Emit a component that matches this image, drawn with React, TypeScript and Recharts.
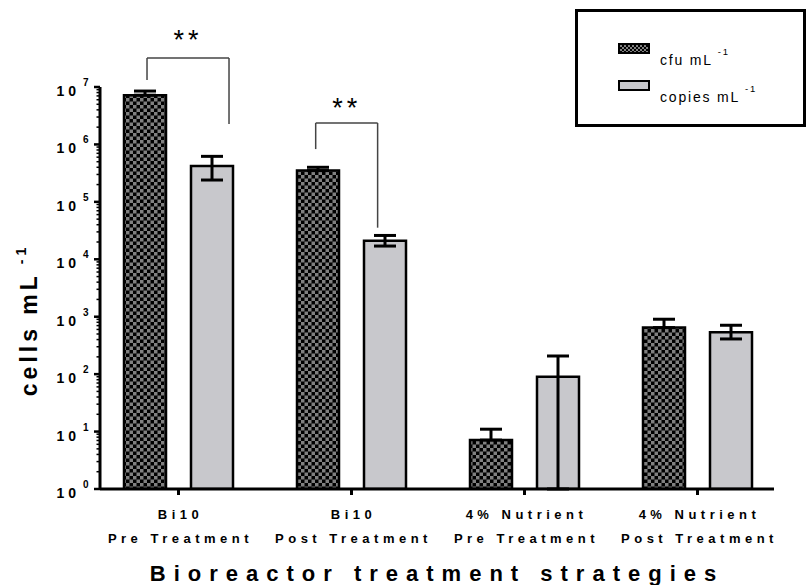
import React from 'react';
import { ComposedChart, Bar, XAxis, YAxis, ErrorBar, ReferenceLine, ReferenceDot, Legend, Label } from 'recharts';

// ---- data ----
const groupLine1 = ['Bi10', 'Bi10', '4% Nutrient', '4% Nutrient'];
const groupLine2 = ['Pre Treatment', 'Post Treatment', 'Pre Treatment', 'Post Treatment'];
const cfuValues = [7.2e6, 3.5e5, 7.1, 646];
const cfuErrUp = [1.3e6, 0.5e5, 3.9, 258];
const copiesValues = [4.2e5, 2.1e4, 90, 537];
const copiesErrDown = [1.8e5, 0.4e4, 89, 127];
const copiesErrUp = [2.0e5, 0.5e4, 117, 173];
const majorTicks = [1, 10, 100, 1e3, 1e4, 1e5, 1e6, 1e7];
const minorMultipliers = [2, 3, 4, 5, 6, 7, 8, 9];
// significance brackets: x in group units (0..4 across the category axis), y in data units
const sigBrackets = [
  { left: 0.318, right: 0.792, leftFoot: 1.32e7, rightFoot: 2.27e6, top: 3.2e7, label: '**', labelY: 6.6e7 },
  { left: 1.293, right: 1.651, leftFoot: 8.3e5, rightFoot: 3.55e4, top: 2.36e6, label: '**', labelY: 4.3e6 },
];

const data = groupLine1.map((l1, i) => ({
  cat: l1 + '\n' + groupLine2[i],
  cfu: cfuValues[i],
  cfuErr: [0, cfuErrUp[i]],
  copies: copiesValues[i],
  copiesErr: [copiesErrDown[i], copiesErrUp[i]],
}));

const allTicks: number[] = [];
majorTicks.forEach((d, i) => {
  allTicks.push(d);
  if (i < majorTicks.length - 1) minorMultipliers.forEach((m) => allTicks.push(m * d));
});

// hidden numeric axis spans the same pixel range as the category axis, domain [0, N-1]
const NUM_MAX = groupLine1.length - 1;
const toNum = (g: number) => (g * NUM_MAX) / groupLine1.length;

const FONT = '"Liberation Sans", Arial, sans-serif';

const YTick = (props: any) => {
  const { x, y, payload } = props;
  const v = payload.value;
  const lg = Math.log10(v);
  const exp = Math.round(lg);
  const major = Math.abs(lg - exp) < 1e-6;
  return (
    <g>
      <line x1={x - (major ? 6 : 3.5)} x2={x} y1={y} y2={y} stroke="#000" strokeWidth={major ? 2.5 : 1.5} />
      {major && (
        <g fontFamily={FONT} fontWeight="bold" fill="#000">
          <text x={x - 20} y={y + 9} textAnchor="end" fontSize={14} letterSpacing={4}>10</text>
          <text x={x - 17} y={y - 1} textAnchor="start" fontSize={10}>{exp}</text>
        </g>
      )}
    </g>
  );
};

const XTick = (props: any) => {
  const { x, y, payload } = props;
  const [a, b] = String(payload.value).split('\n');
  return (
    <g fontFamily={FONT} fontWeight="bold" fontSize={13} fill="#000" letterSpacing={4.5}>
      <text x={x + 2} y={y + 24} textAnchor="middle">{a}</text>
      <text x={x + 2} y={y + 48} textAnchor="middle">{b}</text>
    </g>
  );
};

const CheckerSwatch = () => (
  <svg width={32} height={11} style={{ display: 'block' }}>
    <defs>
      <pattern id="checkerLegend" width="4" height="4" patternUnits="userSpaceOnUse">
        <rect width="4" height="4" fill="#000" />
        <rect width="2" height="2" fill="#808080" />
        <rect x="2" y="2" width="2" height="2" fill="#808080" />
      </pattern>
    </defs>
    <rect x={1} y={1} width={30} height={9} fill="url(#checkerLegend)" stroke="#000" strokeWidth={2} />
  </svg>
);

const GreySwatch = () => (
  <svg width={32} height={11} style={{ display: 'block' }}>
    <rect x={1} y={1} width={30} height={9} fill="#c8c8cc" stroke="#000" strokeWidth={2} />
  </svg>
);

const renderLegend = (props: any) => {
  const payload = props.payload || [];
  const rows = payload.map((p: any, i: number) => (
    <div key={p.dataKey} style={{ position: 'absolute', left: 40, top: 31 + i * 37, height: 20 }}>
      <div style={{ position: 'absolute', left: 0, top: 0 }}>
        {p.dataKey === 'cfu' ? <CheckerSwatch /> : <GreySwatch />}
      </div>
      <div style={{ position: 'absolute', left: 42, top: 9, whiteSpace: 'nowrap', fontFamily: FONT, fontSize: 14, letterSpacing: 1.8, color: '#000' }}>
        {p.value}
        <span style={{ fontSize: 9.5, position: 'relative', top: -10, marginLeft: 5 }}>-1</span>
      </div>
    </div>
  ));
  return (
    <div style={{ position: 'relative', width: 231, height: 118, border: '3px solid #000', boxSizing: 'border-box', background: '#fff' }}>
      {rows}
    </div>
  );
};

const YLabel = (props: any) => {
  const vb = props.viewBox || { x: 40, y: 87, width: 60, height: 402 };
  const cx = vb.x - 3;
  const cy = vb.y + vb.height / 2 + 32;
  return (
    <text transform={`translate(${cx},${cy}) rotate(-90)`} textAnchor="middle" fontFamily={FONT} fontWeight="bold" fontSize={23} letterSpacing={4} fill="#000">
      cells mL<tspan dy={-11} fontSize={14}> -1</tspan>
    </text>
  );
};

const StarShape = (text: string) => (p: any) => (
  <text x={p.cx} y={p.cy} textAnchor="middle" dominantBaseline="central" fontFamily={FONT} fontSize={27} letterSpacing={4} fill="#000">
    {text}
  </text>
);

export default function App() {
  return (
    <div style={{ position: 'absolute', left: 0, top: 0, width: 809, height: 585, background: '#fff' }}>
      <ComposedChart
        width={809}
        height={585}
        data={data}
        margin={{ top: 87, right: 35, bottom: 36, left: 40 }}
        barGap={25}
        barCategoryGap={32}
      >
        <defs>
          <pattern id="checker" width="7" height="7" patternUnits="userSpaceOnUse">
            <rect width="7" height="7" fill="#000" />
            <rect width="3.5" height="3.5" fill="#808080" />
            <rect x="3.5" y="3.5" width="3.5" height="3.5" fill="#808080" />
          </pattern>
        </defs>
        <XAxis
          dataKey="cat"
          height={60}
          padding={{ left: -8, right: -10 }}
          tick={<XTick />}
          tickSize={6}
          tickMargin={0}
          tickLine={{ stroke: '#000', strokeWidth: 3 }}
          axisLine={{ stroke: '#000', strokeWidth: 3 }}
          interval={0}
        >
          <Label
            value="Bioreactor treatment strategies"
            position="bottom"
            offset={16}
            style={{ fontFamily: FONT, fontWeight: 'bold', fontSize: 22, letterSpacing: 8, fill: '#000' }}
          />
        </XAxis>
        <XAxis xAxisId="num" type="number" domain={[0, NUM_MAX]} hide padding={{ left: -8, right: -10 }} allowDataOverflow />
        <YAxis
          scale="log"
          type="number"
          domain={[1, 1e7]}
          ticks={allTicks}
          interval={0}
          allowDataOverflow
          width={60}
          tick={<YTick />}
          tickLine={false}
          tickSize={0}
          tickMargin={0}
          axisLine={{ stroke: '#000', strokeWidth: 3 }}
          label={<YLabel />}
        />
        <Legend
          layout="horizontal"
          verticalAlign="middle"
          align="center"
          content={renderLegend}
          wrapperStyle={{ position: 'absolute', left: 575, top: 9, width: 231, height: 118 }}
        />
        <Bar dataKey="cfu" name="cfu mL" fill="url(#checker)" stroke="#000" strokeWidth={2.5} barSize={42} isAnimationActive={false}>
          <ErrorBar dataKey="cfuErr" width={11} stroke="#000" strokeWidth={3} direction="y" isAnimationActive={false} />
        </Bar>
        <Bar dataKey="copies" name="copies mL" fill="#c8c8cc" stroke="#000" strokeWidth={2.5} barSize={42} isAnimationActive={false}>
          <ErrorBar dataKey="copiesErr" width={11} stroke="#000" strokeWidth={3} direction="y" isAnimationActive={false} />
        </Bar>
        {sigBrackets.map((b, i) => (
          <ReferenceLine key={'l' + i} xAxisId="num" ifOverflow="visible" stroke="#444" strokeWidth={1.5}
            segment={[{ x: toNum(b.left), y: b.leftFoot }, { x: toNum(b.left), y: b.top }]} />
        ))}
        {sigBrackets.map((b, i) => (
          <ReferenceLine key={'t' + i} xAxisId="num" ifOverflow="visible" stroke="#444" strokeWidth={1.5}
            segment={[{ x: toNum(b.left), y: b.top }, { x: toNum(b.right), y: b.top }]} />
        ))}
        {sigBrackets.map((b, i) => (
          <ReferenceLine key={'r' + i} xAxisId="num" ifOverflow="visible" stroke="#444" strokeWidth={1.5}
            segment={[{ x: toNum(b.right), y: b.top }, { x: toNum(b.right), y: b.rightFoot }]} />
        ))}
        {sigBrackets.map((b, i) => (
          <ReferenceDot key={'s' + i} xAxisId="num" ifOverflow="visible" x={toNum((b.left + b.right) / 2)} y={b.labelY} r={0}
            shape={StarShape(b.label)} />
        ))}
      </ComposedChart>
    </div>
  );
}
